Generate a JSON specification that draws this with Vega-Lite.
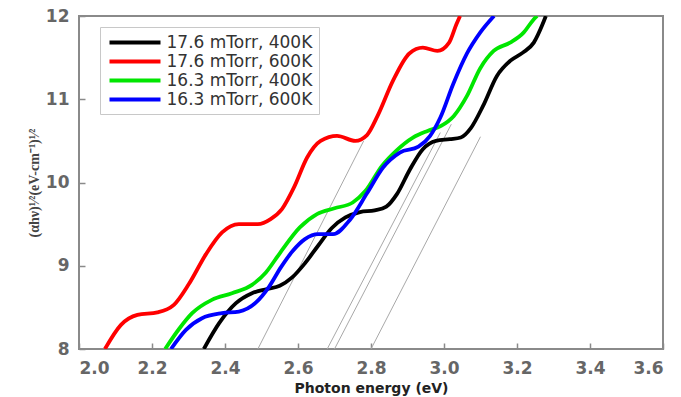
{
  "$schema": "https://vega.github.io/schema/vega-lite/v6.json",
  "width": 584,
  "height": 333,
  "autosize": {"type": "none"},
  "padding": {"left": 79, "top": 16, "right": 18, "bottom": 48},
  "background": "white",
  "config": {
    "view": {"stroke": "#8a8a8a", "strokeWidth": 2},
    "axis": {
      "grid": false,
      "domain": false,
      "ticks": true,
      "tickColor": "#8a8a8a",
      "tickWidth": 1.5,
      "tickSize": -6,
      "labelFont": "DejaVu Sans",
      "labelFontSize": 17,
      "labelFontWeight": "bold",
      "labelColor": "#666666"
    }
  },
  "datasets": {
    "curves": [
      {"series": "17.6 mTorr, 400K", "E": 2.342, "v": 8.0},
      {"series": "17.6 mTorr, 400K", "E": 2.384, "v": 8.31},
      {"series": "17.6 mTorr, 400K", "E": 2.43, "v": 8.55},
      {"series": "17.6 mTorr, 400K", "E": 2.474, "v": 8.67},
      {"series": "17.6 mTorr, 400K", "E": 2.515, "v": 8.72},
      {"series": "17.6 mTorr, 400K", "E": 2.55, "v": 8.76},
      {"series": "17.6 mTorr, 400K", "E": 2.584, "v": 8.86},
      {"series": "17.6 mTorr, 400K", "E": 2.619, "v": 9.03},
      {"series": "17.6 mTorr, 400K", "E": 2.655, "v": 9.24},
      {"series": "17.6 mTorr, 400K", "E": 2.692, "v": 9.45},
      {"series": "17.6 mTorr, 400K", "E": 2.73, "v": 9.58},
      {"series": "17.6 mTorr, 400K", "E": 2.77, "v": 9.645},
      {"series": "17.6 mTorr, 400K", "E": 2.81, "v": 9.665},
      {"series": "17.6 mTorr, 400K", "E": 2.842, "v": 9.71},
      {"series": "17.6 mTorr, 400K", "E": 2.871, "v": 9.86},
      {"series": "17.6 mTorr, 400K", "E": 2.907, "v": 10.16},
      {"series": "17.6 mTorr, 400K", "E": 2.942, "v": 10.4},
      {"series": "17.6 mTorr, 400K", "E": 2.978, "v": 10.5},
      {"series": "17.6 mTorr, 400K", "E": 3.016, "v": 10.52},
      {"series": "17.6 mTorr, 400K", "E": 3.046, "v": 10.54},
      {"series": "17.6 mTorr, 400K", "E": 3.073, "v": 10.65},
      {"series": "17.6 mTorr, 400K", "E": 3.107, "v": 10.92},
      {"series": "17.6 mTorr, 400K", "E": 3.145, "v": 11.28},
      {"series": "17.6 mTorr, 400K", "E": 3.181, "v": 11.46},
      {"series": "17.6 mTorr, 400K", "E": 3.216, "v": 11.56},
      {"series": "17.6 mTorr, 400K", "E": 3.246, "v": 11.68},
      {"series": "17.6 mTorr, 400K", "E": 3.27, "v": 11.9},
      {"series": "17.6 mTorr, 400K", "E": 3.279, "v": 12.0},

      {"series": "17.6 mTorr, 600K", "E": 2.071, "v": 8.0},
      {"series": "17.6 mTorr, 600K", "E": 2.115, "v": 8.29},
      {"series": "17.6 mTorr, 600K", "E": 2.16, "v": 8.41},
      {"series": "17.6 mTorr, 600K", "E": 2.215, "v": 8.44},
      {"series": "17.6 mTorr, 600K", "E": 2.26, "v": 8.53},
      {"series": "17.6 mTorr, 600K", "E": 2.301, "v": 8.78},
      {"series": "17.6 mTorr, 600K", "E": 2.348, "v": 9.14},
      {"series": "17.6 mTorr, 600K", "E": 2.392, "v": 9.4},
      {"series": "17.6 mTorr, 600K", "E": 2.438, "v": 9.5},
      {"series": "17.6 mTorr, 600K", "E": 2.49, "v": 9.5},
      {"series": "17.6 mTorr, 600K", "E": 2.525, "v": 9.56},
      {"series": "17.6 mTorr, 600K", "E": 2.556, "v": 9.68},
      {"series": "17.6 mTorr, 600K", "E": 2.59, "v": 9.95},
      {"series": "17.6 mTorr, 600K", "E": 2.625, "v": 10.3},
      {"series": "17.6 mTorr, 600K", "E": 2.662, "v": 10.5},
      {"series": "17.6 mTorr, 600K", "E": 2.707, "v": 10.56},
      {"series": "17.6 mTorr, 600K", "E": 2.757, "v": 10.5},
      {"series": "17.6 mTorr, 600K", "E": 2.789, "v": 10.57},
      {"series": "17.6 mTorr, 600K", "E": 2.818, "v": 10.8},
      {"series": "17.6 mTorr, 600K", "E": 2.86, "v": 11.22},
      {"series": "17.6 mTorr, 600K", "E": 2.905, "v": 11.55},
      {"series": "17.6 mTorr, 600K", "E": 2.942, "v": 11.62},
      {"series": "17.6 mTorr, 600K", "E": 2.982, "v": 11.58},
      {"series": "17.6 mTorr, 600K", "E": 3.014, "v": 11.68},
      {"series": "17.6 mTorr, 600K", "E": 3.034, "v": 11.9},
      {"series": "17.6 mTorr, 600K", "E": 3.044, "v": 12.0},

      {"series": "16.3 mTorr, 400K", "E": 2.236, "v": 8.0},
      {"series": "16.3 mTorr, 400K", "E": 2.274, "v": 8.24},
      {"series": "16.3 mTorr, 400K", "E": 2.31, "v": 8.43},
      {"series": "16.3 mTorr, 400K", "E": 2.364, "v": 8.59},
      {"series": "16.3 mTorr, 400K", "E": 2.419, "v": 8.67},
      {"series": "16.3 mTorr, 400K", "E": 2.474, "v": 8.77},
      {"series": "16.3 mTorr, 400K", "E": 2.512, "v": 8.92},
      {"series": "16.3 mTorr, 400K", "E": 2.55, "v": 9.15},
      {"series": "16.3 mTorr, 400K", "E": 2.605, "v": 9.46},
      {"series": "16.3 mTorr, 400K", "E": 2.652, "v": 9.62},
      {"series": "16.3 mTorr, 400K", "E": 2.7, "v": 9.69},
      {"series": "16.3 mTorr, 400K", "E": 2.75, "v": 9.76},
      {"series": "16.3 mTorr, 400K", "E": 2.785, "v": 9.9},
      {"series": "16.3 mTorr, 400K", "E": 2.83, "v": 10.2},
      {"series": "16.3 mTorr, 400K", "E": 2.871, "v": 10.39},
      {"series": "16.3 mTorr, 400K", "E": 2.915, "v": 10.54},
      {"series": "16.3 mTorr, 400K", "E": 2.955, "v": 10.62},
      {"series": "16.3 mTorr, 400K", "E": 2.992, "v": 10.68},
      {"series": "16.3 mTorr, 400K", "E": 3.027, "v": 10.8},
      {"series": "16.3 mTorr, 400K", "E": 3.063, "v": 11.04},
      {"series": "16.3 mTorr, 400K", "E": 3.099, "v": 11.37},
      {"series": "16.3 mTorr, 400K", "E": 3.136, "v": 11.58},
      {"series": "16.3 mTorr, 400K", "E": 3.181, "v": 11.68},
      {"series": "16.3 mTorr, 400K", "E": 3.218, "v": 11.8},
      {"series": "16.3 mTorr, 400K", "E": 3.244, "v": 11.95},
      {"series": "16.3 mTorr, 400K", "E": 3.255, "v": 12.0},

      {"series": "16.3 mTorr, 600K", "E": 2.252, "v": 8.0},
      {"series": "16.3 mTorr, 600K", "E": 2.293, "v": 8.23},
      {"series": "16.3 mTorr, 600K", "E": 2.337, "v": 8.37},
      {"series": "16.3 mTorr, 600K", "E": 2.392, "v": 8.43},
      {"series": "16.3 mTorr, 600K", "E": 2.438, "v": 8.45},
      {"series": "16.3 mTorr, 600K", "E": 2.485, "v": 8.56},
      {"series": "16.3 mTorr, 600K", "E": 2.521, "v": 8.75},
      {"series": "16.3 mTorr, 600K", "E": 2.553, "v": 8.98},
      {"series": "16.3 mTorr, 600K", "E": 2.586, "v": 9.18},
      {"series": "16.3 mTorr, 600K", "E": 2.619, "v": 9.32},
      {"series": "16.3 mTorr, 600K", "E": 2.655, "v": 9.38},
      {"series": "16.3 mTorr, 600K", "E": 2.696, "v": 9.38},
      {"series": "16.3 mTorr, 600K", "E": 2.742, "v": 9.55},
      {"series": "16.3 mTorr, 600K", "E": 2.789, "v": 9.87},
      {"series": "16.3 mTorr, 600K", "E": 2.833, "v": 10.18},
      {"series": "16.3 mTorr, 600K", "E": 2.879, "v": 10.36},
      {"series": "16.3 mTorr, 600K", "E": 2.93, "v": 10.43},
      {"series": "16.3 mTorr, 600K", "E": 2.962, "v": 10.56},
      {"series": "16.3 mTorr, 600K", "E": 2.99, "v": 10.78},
      {"series": "16.3 mTorr, 600K", "E": 3.025, "v": 11.18},
      {"series": "16.3 mTorr, 600K", "E": 3.063, "v": 11.55},
      {"series": "16.3 mTorr, 600K", "E": 3.099, "v": 11.8},
      {"series": "16.3 mTorr, 600K", "E": 3.137, "v": 12.0}
    ],
    "fits": [
      {"fit": "a", "E": 2.49, "v": 8.0},
      {"fit": "a", "E": 2.78, "v": 10.5},
      {"fit": "b", "E": 2.68, "v": 8.0},
      {"fit": "b", "E": 2.99, "v": 10.6},
      {"fit": "c", "E": 2.70, "v": 8.0},
      {"fit": "c", "E": 3.02, "v": 10.7},
      {"fit": "d", "E": 2.80, "v": 8.0},
      {"fit": "d", "E": 3.10, "v": 10.55}
    ]
  },
  "layer": [
    {
      "data": {"name": "fits"},
      "mark": {"type": "line", "stroke": "#a8a8a8", "strokeWidth": 1, "clip": true},
      "encoding": {
        "x": {"field": "E", "type": "quantitative", "scale": {"domain": [2.0, 3.6], "nice": false, "zero": false}},
        "y": {"field": "v", "type": "quantitative", "scale": {"domain": [8, 12], "nice": false, "zero": false}},
        "detail": {"field": "fit"}
      }
    },
    {
      "data": {"name": "curves"},
      "mark": {"type": "line", "interpolate": "monotone", "strokeWidth": 3.8, "clip": true},
      "encoding": {
        "x": {
          "field": "E", "type": "quantitative",
          "scale": {"domain": [2.0, 3.6], "nice": false, "zero": false},
          "axis": {
            "values": [2.0, 2.2, 2.4, 2.6, 2.8, 3.0, 3.2, 3.4, 3.6],
            "format": ".1f",
            "labelPadding": 17,
            "title": "Photon energy (eV)",
            "titleFont": "DejaVu Sans",
            "titleFontSize": 14,
            "titleFontWeight": "bold",
            "titleColor": "#222",
            "titlePadding": 5
          }
        },
        "y": {
          "field": "v", "type": "quantitative",
          "scale": {"domain": [8, 12], "nice": false, "zero": false},
          "axis": {
            "values": [8, 9, 10, 11, 12],
            "format": "d",
            "labelPadding": 16,
            "title": "(αhν)¹⁄²(eV-cm⁻¹)¹⁄²",
            "titleFont": "Liberation Serif",
            "titleFontSize": 14,
            "titleFontWeight": "bold",
            "titleColor": "#444",
            "titlePadding": 4
          }
        },
        "color": {
          "field": "series", "type": "nominal",
          "scale": {
            "domain": ["17.6 mTorr, 400K", "17.6 mTorr, 600K", "16.3 mTorr, 400K", "16.3 mTorr, 600K"],
            "range": ["#000000", "#ff0000", "#00e600", "#0000ff"]
          },
          "legend": {
            "orient": "none",
            "legendX": 21,
            "legendY": 11,
            "title": null,
            "symbolType": "M-3.4,0H3.4",
            "symbolSize": 225,
            "symbolStrokeWidth": 4,
            "symbolOffset": 19.5,
            "labelOffset": 22,
            "labelFont": "DejaVu Sans",
            "labelFontSize": 17,
            "labelColor": "#333",
            "labelLimit": 300,
            "rowPadding": 1,
            "padding": 6,
            "strokeColor": "#c8c8c8",
            "fillColor": "white"
          }
        }
      }
    }
  ]
}
